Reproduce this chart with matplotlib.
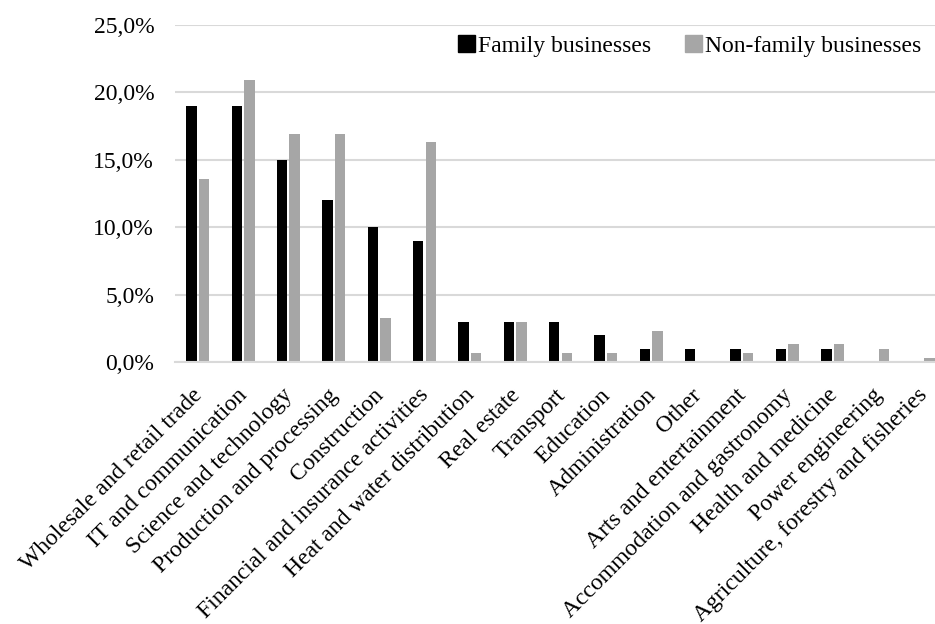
import numpy as np
import matplotlib.pyplot as plt
import matplotlib.transforms as mtransforms
from matplotlib.patches import Patch

plt.rcParams.update({
    "font.family": ["Liberation Serif", "DejaVu Serif"],
    "font.size": 17,
})

categories = [
    "Wholesale and retail trade", "IT and communication", "Science and technology",
    "Production and processing", "Construction", "Financial and insurance activities",
    "Heat and water distribution", "Real estate", "Transport", "Education",
    "Administration", "Other", "Arts and entertainment",
    "Accommodation and gastronomy", "Health and medicine", "Power engineering",
    "Agriculture, forestry and fisheries",
]
family = [19.0, 19.0, 15.0, 12.0, 10.0, 9.0, 3.0, 3.0, 3.0, 2.0, 1.0, 1.0, 1.0, 1.0, 1.0, 0.0, 0.0]
non_family = [13.6, 20.9, 16.95, 16.95, 3.3, 16.3, 0.67, 3.0, 0.67, 0.67, 2.3, 0.0, 0.67, 1.3, 1.3, 1.0, 0.3]
y_ticks = [0, 5, 10, 15, 20, 25]

BLACK = "#000000"
GREY = "#a6a6a6"
GRID = "#d9d9d9"

fig = plt.figure(figsize=(9.35, 6.24), dpi=100)
ax = fig.add_axes([175 / 935, 1 - 362 / 624, (946 - 175) / 935, (362 - 25) / 624])

x = np.arange(len(categories))
w = 0.23
off = 0.139
ax.bar(x - off, family, width=w, color=BLACK, zorder=3)
ax.bar(x + off, non_family, width=w, color=GREY, zorder=3)

ax.set_xlim(-0.5, len(categories) - 0.5)
ax.set_ylim(0, 25)
ax.set_yticks(y_ticks)
ax.set_yticklabels([f"{v:.1f}%".replace(".", ",") for v in y_ticks])
ax.yaxis.grid(True, color=GRID, linewidth=1.5, zorder=0)
ax.set_axisbelow(True)

for s in ["top", "right", "left"]:
    ax.spines[s].set_visible(False)
ax.spines["bottom"].set_color(GRID)
ax.spines["bottom"].set_linewidth(1.5)
ax.spines["bottom"].set_zorder(4)

ax.tick_params(axis="y", length=0, pad=15)
ax.tick_params(axis="x", length=0, pad=4)
ax.set_xticks(x)
ax.set_xticklabels(categories, rotation=45, ha="right", va="top", rotation_mode="anchor")

# nudge the rotated labels down-left, like the original
shift = mtransforms.ScaledTranslation(-6 / 100, -17 / 100, fig.dpi_scale_trans)
for lbl in ax.get_xticklabels():
    lbl.set_transform(lbl.get_transform() + shift)

handles = [Patch(color=BLACK, label="Family businesses"),
           Patch(color=GREY, label="Non-family businesses")]
fig.legend(handles=handles, ncol=2, frameon=False, loc="upper right",
           bbox_to_anchor=(921 / 935, 1 - 35 / 624),
           handlelength=0.72, handleheight=0.72, handletextpad=0.12,
           columnspacing=1.45, borderaxespad=0, borderpad=0)

fig.savefig("out.png", dpi=100)
